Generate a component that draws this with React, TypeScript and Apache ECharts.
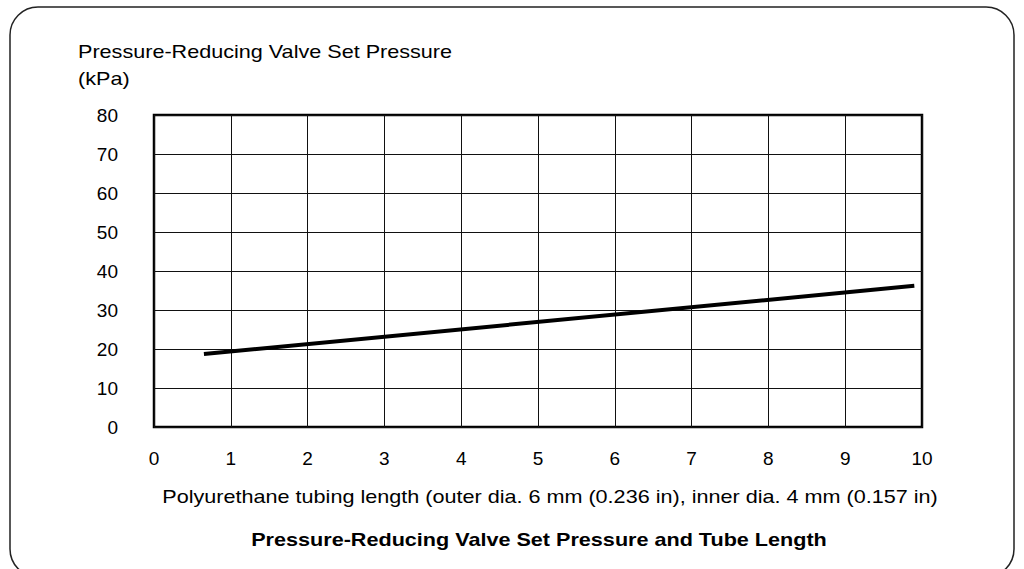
import React, { useEffect, useRef } from "react";
import * as echarts from "echarts";

const tubeLength: number[] = [0.65, 9.9];
const setPressure: number[] = [18.7, 36.2];
const xTicks = { min: 0, max: 10, interval: 1 };
const yTicks = { min: 0, max: 80, interval: 10 };
const yAxisName: string[] = ["Pressure-Reducing Valve Set Pressure", "(kPa)"];
const xAxisName = "Polyurethane tubing length (outer dia. 6 mm (0.236 in), inner dia. 4 mm (0.157 in)";
const chartTitle = "Pressure-Reducing Valve Set Pressure and Tube Length";

const FONT = "'Liberation Sans', Arial, Helvetica, sans-serif";

export default function App() {
  const ref = useRef<HTMLDivElement>(null);
  useEffect(() => {
    if (!ref.current) return;
    const chart = echarts.init(ref.current, undefined, { renderer: "svg" });
    const data = tubeLength.map((x, i) => [x, setPressure[i]]);
    chart.setOption({
      animation: false,
      backgroundColor: "#fff",
      textStyle: { fontFamily: FONT },
      grid: {
        left: 154,
        top: 115,
        width: 768,
        height: 312,
        show: true,
        borderColor: "#000",
        borderWidth: 2.5,
        backgroundColor: "transparent",
      },
      xAxis: {
        type: "value",
        min: xTicks.min,
        max: xTicks.max,
        interval: xTicks.interval,
        axisLine: { show: false },
        axisTick: { show: false },
        splitLine: { show: true, lineStyle: { color: "#111", width: 1 } },
        axisLabel: { color: "#000", fontSize: 19, margin: 22, fontFamily: FONT },
      },
      yAxis: {
        type: "value",
        min: yTicks.min,
        max: yTicks.max,
        interval: yTicks.interval,
        axisLine: { show: false },
        axisTick: { show: false },
        splitLine: { show: true, lineStyle: { color: "#111", width: 1 } },
        axisLabel: { color: "#000", fontSize: 19, margin: 36, fontFamily: FONT },
      },
      series: [
        {
          type: "line",
          data,
          symbol: "none",
          lineStyle: { color: "#000", width: 4 },
        },
      ],
      graphic: [
        {
          type: "rect",
          shape: { x: 10, y: 7, width: 1004, height: 570, r: 28 },
          style: { fill: "none", stroke: "#222", lineWidth: 1.5 },
          silent: true,
        },
        {
          type: "text",
          x: 78,
          y: 52,
          scaleX: 1.2,
          style: { text: yAxisName[0], fontSize: 18, fontFamily: FONT, fill: "#000", textVerticalAlign: "middle" },
        },
        {
          type: "text",
          x: 78,
          y: 79,
          scaleX: 1.2,
          style: { text: yAxisName[1], fontSize: 18, fontFamily: FONT, fill: "#000", textVerticalAlign: "middle" },
        },
        {
          type: "text",
          x: 550,
          y: 497,
          scaleX: 1.2,
          style: { text: xAxisName, fontSize: 18, fontFamily: FONT, fill: "#000", textAlign: "center", textVerticalAlign: "middle" },
        },
        {
          type: "text",
          x: 539,
          y: 540,
          scaleX: 1.2,
          style: { text: chartTitle, fontSize: 18, fontWeight: "bold", fontFamily: FONT, fill: "#000", textAlign: "center", textVerticalAlign: "middle" },
        },
      ],
    });
    return () => chart.dispose();
  }, []);
  return <div ref={ref} style={{ position: "fixed", left: 0, top: 0, width: 1024, height: 569 }} />;
}
